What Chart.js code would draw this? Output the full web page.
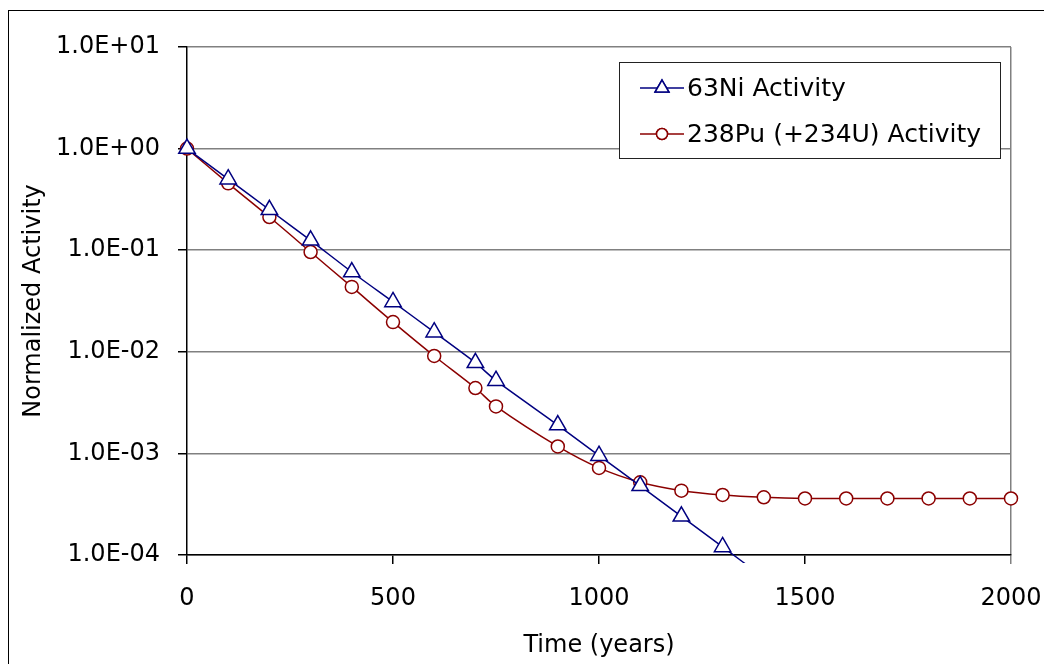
<!DOCTYPE html>
<html lang="en">
<head>
<meta charset="UTF-8">
<title>Normalized Activity</title>
<script src="https://cdn.jsdelivr.net/npm/chart.js"></script>
<style>
    html, body { margin: 0; padding: 0; background: #fff; }
    #wrap { position: relative; width: 1044px; height: 664px; }
</style>
</head>
<body>
<div id="wrap"><canvas id="activityChart" width="1044" height="664"></canvas></div>
<script>
    // values
    const niYears    = [0, 100, 200, 300, 400, 500, 600, 700, 750, 900, 1000, 1100, 1200, 1300, 1400];
    const niActivity = [1.0, 0.5, 0.25, 0.125, 0.061, 0.031, 0.0156, 0.0078, 0.0052, 0.0019, 0.00095, 0.00048, 0.00024, 0.00012, 0.00006];

    const puYears    = [0, 100, 200, 300, 400, 500, 600, 700, 750, 900, 1000, 1100, 1200, 1300, 1400, 1500, 1600, 1700, 1800, 1900, 2000];
    const puActivity = [1.0, 0.455, 0.212, 0.096, 0.0435, 0.0196, 0.0091, 0.0044, 0.0029, 0.00117, 0.00072, 0.00052, 0.00043, 0.00039, 0.00037, 0.00036, 0.00036, 0.00036, 0.00036, 0.00036, 0.00036];

    const yTicks = [1e-4, 1e-3, 1e-2, 1e-1, 1e0, 1e1];
    const xTicks = [0, 500, 1000, 1500, 2000];

    const seriesNames = ['63Ni Activity', '238Pu (+234U) Activity'];
    const niColor = '#000080';
    const puColor = '#8b0000';
    const fontFamily = "'DejaVu Sans', sans-serif";

    function sciLabel(v) {
        const exp = Math.round(Math.log10(v));
        const sign = exp < 0 ? '-' : '+';
        return '1.0E' + sign + String(Math.abs(exp)).padStart(2, '0');
    }

    // outer frame of the chart object
    const framePlugin = {
        id: 'frame',
        beforeDraw(chart) {
            const c = chart.ctx;
            c.save();
            c.fillStyle = '#fff';
            c.fillRect(0, 0, chart.width, chart.height);
            c.strokeStyle = '#000';
            c.lineWidth = 1;
            c.strokeRect(8.5, 10.5, chart.width + 20, chart.height + 20);
            c.restore();
        }
    };

    // legend box inside the plot, Excel style
    const boxLegend = {
        id: 'boxLegend',
        afterDraw(chart) {
            const c = chart.ctx;
            const x0 = 619, y0 = 62, w = 381, h = 96;
            c.save();
            c.fillStyle = '#fff';
            c.fillRect(x0, y0, w, h);
            c.strokeStyle = '#222';
            c.lineWidth = 1;
            c.strokeRect(x0 + 0.5, y0 + 0.5, w, h);
            chart.data.datasets.forEach((ds, i) => {
                const cy = y0 + 26 + i * 46;
                c.strokeStyle = ds.borderColor;
                c.lineWidth = 1.5;
                c.beginPath();
                c.moveTo(640, cy);
                c.lineTo(684, cy);
                c.stroke();
                Chart.helpers.drawPoint(c, {
                    pointStyle: ds.pointStyle,
                    radius: ds.pointStyle === 'triangle' ? 8 : 5.5,
                    borderWidth: 1.5
                }, 662, cy);
                c.fillStyle = '#fff';
                c.strokeStyle = ds.borderColor;
                c.fill();
                c.stroke();
                c.fillStyle = '#000';
                c.font = '25px ' + fontFamily;
                c.textBaseline = 'middle';
                c.textAlign = 'left';
                c.fillText(ds.label, 687, cy + 1);
            });
            c.restore();
        }
    };

    const ctx = document.getElementById('activityChart').getContext('2d');
    new Chart(ctx, {
        type: 'line',
        data: {
            datasets: [{
                label: seriesNames[0],
                data: niYears.map((t, i) => ({ x: t, y: niActivity[i] })),
                borderColor: niColor,
                backgroundColor: '#fff',
                borderWidth: 1.5,
                pointStyle: 'triangle',
                pointRadius: 9.5,
                pointBorderWidth: 1.5,
                tension: 0.2,
                clip: { left: 10, top: 10, right: 10, bottom: 8 }
            }, {
                label: seriesNames[1],
                data: puYears.map((t, i) => ({ x: t, y: puActivity[i] })),
                borderColor: puColor,
                backgroundColor: '#fff',
                borderWidth: 1.5,
                pointStyle: 'circle',
                pointRadius: 6.5,
                pointBorderWidth: 1.5,
                tension: 0.3,
                clip: 10
            }]
        },
        options: {
            responsive: false,
            animation: false,
            layout: { padding: { top: 47, right: 33, left: 0, bottom: 0 } },
            plugins: {
                legend: { display: false },
                tooltip: { enabled: false }
            },
            scales: {
                x: {
                    type: 'linear',
                    min: 0,
                    max: 2000,
                    afterBuildTicks: s => { s.ticks = xTicks.map(v => ({ value: v })); },
                    afterFit: s => {
                        s.height = 109;
                        s.paddingLeft = 0;
                        s.paddingRight = 0;
                    },
                    ticks: {
                        color: '#000',
                        padding: 20,
                        maxRotation: 0,
                        font: { family: fontFamily, size: 24 },
                        callback: v => String(v)
                    },
                    grid: {
                        color: c => c.tick && c.tick.value === 2000 ? '#808080' : 'rgba(0,0,0,0)',
                        tickColor: c => c.tick && c.tick.value === 2000 ? '#808080' : '#000',
                        tickLength: 9,
                        lineWidth: 1.5
                    },
                    border: { color: '#000', width: 1.5 },
                    title: {
                        display: true,
                        text: 'Time (years)',
                        color: '#000',
                        font: { family: fontFamily, size: 24 },
                        padding: { top: 0, bottom: 4 }
                    }
                },
                y: {
                    type: 'logarithmic',
                    min: 1e-4,
                    max: 1e1,
                    afterBuildTicks: s => { s.ticks = yTicks.map(v => ({ value: v })); },
                    afterFit: s => {
                        s.width = 187;
                        s.paddingTop = 0;
                        s.paddingBottom = 0;
                    },
                    ticks: {
                        color: '#000',
                        padding: 18,
                        font: { family: fontFamily, size: 24 },
                        callback: v => sciLabel(v)
                    },
                    grid: {
                        color: '#808080',
                        tickColor: '#000',
                        tickLength: 9,
                        lineWidth: 1.5
                    },
                    border: { color: '#000', width: 1.5 },
                    title: {
                        display: true,
                        text: 'Normalized Activity',
                        color: '#000',
                        font: { family: fontFamily, size: 24 },
                        padding: { top: 19, bottom: 0 }
                    }
                }
            }
        },
        plugins: [framePlugin, boxLegend]
    });
</script>
</body>
</html>
